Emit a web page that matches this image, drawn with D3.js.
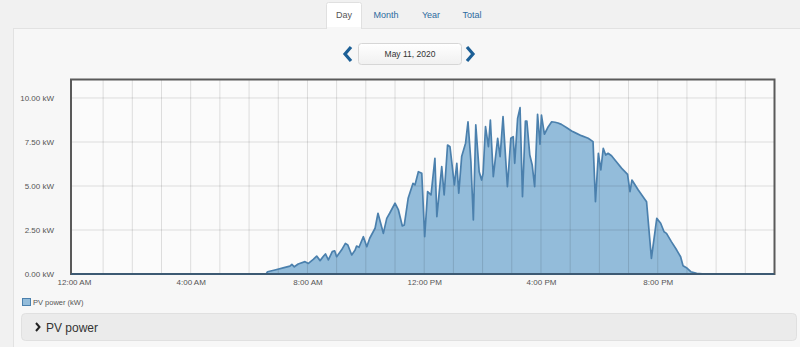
<!DOCTYPE html>
<html><head><meta charset="utf-8">
<script src="https://cdn.jsdelivr.net/npm/d3@7/dist/d3.min.js"></script>
<style>
html,body{margin:0;padding:0;background:#f1f1f1;overflow:hidden;}
svg{display:block;font-family:"Liberation Sans",Arial,sans-serif;}
</style></head>
<body>
<svg id="c" width="800" height="347"></svg>
<script>
// ---- data ----
const day = "2020-05-11";
const times = ["00:00","06:35","06:38","06:53","07:14","07:24","07:28","07:33","07:41","07:55","08:02","08:12","08:19","08:26","08:32","08:37","08:43","08:51","08:56","09:00","09:10","09:18","09:23","09:31","09:38","09:41","09:46","09:55","10:02","10:08","10:19","10:25","10:36","10:43","10:49","11:00","11:07","11:15","11:19","11:27","11:37","11:41","11:48","11:55","12:01","12:07","12:14","12:22","12:26","12:36","12:41","12:48","12:53","13:02","13:07","13:11","13:17","13:25","13:30","13:36","13:41","13:46","13:53","13:58","14:01","14:06","14:12","14:16","14:22","14:31","14:36","14:42","14:51","14:58","15:03","15:06","15:12","15:17","15:22","15:28","15:31","15:37","15:42","15:47","15:53","15:58","16:01","16:07","16:15","16:22","16:29","16:35","16:42","16:53","17:03","17:13","17:23","17:37","17:47","17:52","17:58","18:03","18:08","18:13","18:18","18:25","18:35","18:46","18:58","19:03","19:07","19:20","19:37","19:47","19:58","20:06","20:13","20:18","20:28","20:39","20:47","20:52","20:59","21:08","21:20","21:37","23:59"];
const pvPower = [0,0,0.13,0.23,0.38,0.45,0.55,0.41,0.57,0.70,0.60,0.83,1.02,0.76,0.98,1.14,0.80,1.27,1.32,0.98,1.36,1.74,1.65,1.08,1.36,1.59,1.52,2.12,1.55,2.03,2.60,3.45,2.31,3.16,3.45,4.02,3.64,2.73,2.78,4.30,5.15,5.06,5.81,5.72,2.12,4.68,4.49,6.57,3.26,6.10,4.49,7.33,7.23,5.06,6.29,4.59,6.67,7.43,8.65,6.38,3.07,8.47,5.81,5.34,5.72,8.37,7.23,8.75,5.53,7.71,6.67,8.94,4.96,7.71,7.80,6.29,8.84,9.45,4.39,8.69,8.69,6.76,6.19,4.96,9.07,7.37,9.03,7.94,8.37,8.65,8.62,8.58,8.50,8.31,8.12,7.99,7.86,7.71,7.52,4.11,6.86,5.91,7.14,6.76,6.86,6.72,6.38,6.00,5.66,4.68,5.34,4.77,4.11,0.89,3.16,2.88,2.40,2.31,1.84,1.36,0.98,0.47,0.36,0.13,0.04,0,0];
const yTicks = [0, 2.5, 5, 7.5, 10];
const xTickHours = [0, 4, 8, 12, 16, 20];
const tabs = ["Day", "Month", "Year", "Total"];
const dateLabel = "May 11, 2020";
const seriesName = "PV power (kW)";
const panelTitle = "PV power";

// ---- build ----
const parse = d3.timeParse("%Y-%m-%d %H:%M");
const data = times.map((t, i) => ({t: parse(day + " " + t), v: pvPower[i]}));
const start = parse(day + " 00:00");
const end = d3.timeDay.offset(start, 1);

const svg = d3.select("#c");
const L = 71, R = 774.5, T = 79.5, B = 274;

// page & panel
svg.append("rect").attr("x", 0).attr("y", 0).attr("width", 800).attr("height", 347).attr("fill", "#f1f1f1");
svg.append("rect").attr("x", 13.5).attr("y", 28.5).attr("width", 800).attr("height", 330)
  .attr("fill", "#f7f7f7").attr("stroke", "#e2e2e2");

// tabs
const tabX = [344, 386, 431, 472];
svg.append("path").attr("d", "M326.5,29 L326.5,4.5 Q326.5,2.5 328.5,2.5 L359.5,2.5 Q361.5,2.5 361.5,4.5 L361.5,29")
  .attr("fill", "#ffffff").attr("stroke", "#e0e0e0");
svg.append("rect").attr("x", 327).attr("y", 27).attr("width", 34).attr("height", 3).attr("fill", "#f7f7f7");
svg.selectAll("text.tab").data(tabs).join("text").attr("class", "tab")
  .attr("x", (d, i) => tabX[i]).attr("y", 18).attr("text-anchor", "middle")
  .attr("font-size", 9).attr("fill", (d, i) => i === 0 ? "#555" : "#2d6b9f").text(d => d);

// date picker
const grad = svg.append("defs").append("linearGradient").attr("id", "g").attr("x1", 0).attr("x2", 0).attr("y1", 0).attr("y2", 1);
grad.append("stop").attr("offset", 0).attr("stop-color", "#ffffff");
grad.append("stop").attr("offset", 1).attr("stop-color", "#f0f0f0");
svg.append("rect").attr("x", 358.5).attr("y", 43.5).attr("width", 103).attr("height", 21).attr("rx", 3)
  .attr("fill", "url(#g)").attr("stroke", "#d6d6d6");
svg.append("text").attr("x", 410).attr("y", 57).attr("text-anchor", "middle").attr("font-size", 8.5)
  .attr("fill", "#333").text(dateLabel);
svg.append("path").attr("d", "M351,47 L345,54 L351,61").attr("fill", "none").attr("stroke", "#1c5f96").attr("stroke-width", 3.2);
svg.append("path").attr("d", "M467,47 L473,54 L467,61").attr("fill", "none").attr("stroke", "#1c5f96").attr("stroke-width", 3.2);

// scales
const x = d3.scaleTime().domain([d3.timeMinute.offset(start, -6), end]).range([L, R]);
const y = d3.scaleLinear().domain([0, 11.05]).range([B, T]);

// plot bg
svg.append("rect").attr("x", L).attr("y", T).attr("width", R - L).attr("height", B - T).attr("fill", "#fbfbfb");

// area + line
const clip = svg.append("clipPath").attr("id", "clip");
clip.append("rect").attr("x", L).attr("y", T).attr("width", R - L).attr("height", B - T);
const g = svg.append("g").attr("clip-path", "url(#clip)");
g.append("path").datum(data)
  .attr("d", d3.area().x(d => x(d.t)).y0(y(0)).y1(d => y(d.v)))
  .attr("fill", "#93bcda");

// grid (over area, translucent)
const hours = d3.range(1, 24).map(h => d3.timeHour.offset(start, h));
g.selectAll("line.vg").data(hours).join("line").attr("class", "vg")
  .attr("x1", d => x(d)).attr("x2", d => x(d)).attr("y1", T).attr("y2", B)
  .attr("stroke", "rgba(0,0,0,0.12)").attr("stroke-width", 1);
g.selectAll("line.hg").data(yTicks.filter(v => v > 0)).join("line").attr("class", "hg")
  .attr("x1", L).attr("x2", R).attr("y1", d => y(d)).attr("y2", d => y(d))
  .attr("stroke", "rgba(0,0,0,0.12)").attr("stroke-width", 1);

g.append("path").datum(data)
  .attr("d", d3.line().x(d => x(d.t)).y(d => y(d.v)))
  .attr("fill", "none").attr("stroke", "#4b80ad").attr("stroke-width", 1.7).attr("stroke-linejoin", "round");

// frame
svg.append("rect").attr("x", L).attr("y", T).attr("width", R - L).attr("height", B - T)
  .attr("fill", "none").attr("stroke", "#5a5a5a").attr("stroke-width", 2);
svg.append("line").attr("x1", L).attr("x2", R).attr("y1", B).attr("y2", B).attr("stroke", "#3d5a73").attr("stroke-width", 2);

// axes
const yAxis = d3.axisLeft(y).tickValues(yTicks).tickSize(0).tickPadding(17)
  .tickFormat(v => d3.format(".2f")(v) + " kW");
const ya = svg.append("g").attr("transform", `translate(${L},0)`).call(yAxis);
ya.select(".domain").remove();
ya.selectAll("text").attr("font-size", 8).attr("fill", "#555").attr("font-family", "Liberation Sans, Arial, sans-serif");

const xAxis = d3.axisBottom(x).tickValues(xTickHours.map(h => d3.timeHour.offset(start, h)))
  .tickSize(0).tickPadding(5).tickFormat(d3.timeFormat("%-I:%M %p"));
const xa = svg.append("g").attr("transform", `translate(0,${B})`).call(xAxis);
xa.select(".domain").remove();
xa.selectAll("text").attr("font-size", 8).attr("fill", "#555").attr("font-family", "Liberation Sans, Arial, sans-serif");

// legend
svg.append("rect").attr("x", 22.5).attr("y", 298.5).attr("width", 8).attr("height", 7)
  .attr("fill", "#93bcda").attr("stroke", "#4b80ad");
svg.append("text").attr("x", 33).attr("y", 305).attr("font-size", 7.5).attr("fill", "#555").text(seriesName);

// bottom collapsible bar
svg.append("rect").attr("x", 21.5).attr("y", 313.5).attr("width", 775).attr("height", 27).attr("rx", 4)
  .attr("fill", "#ebebeb").attr("stroke", "#e0e0e0");
svg.append("path").attr("d", "M36,323 L39.5,327 L36,331").attr("fill", "none").attr("stroke", "#222").attr("stroke-width", 2);
svg.append("text").attr("x", 46).attr("y", 331.5).attr("font-size", 12)
  .attr("font-family", "'Liberation Sans Narrow','Liberation Sans',Arial,sans-serif").attr("fill", "#333").text(panelTitle);
</script>
</body></html>
